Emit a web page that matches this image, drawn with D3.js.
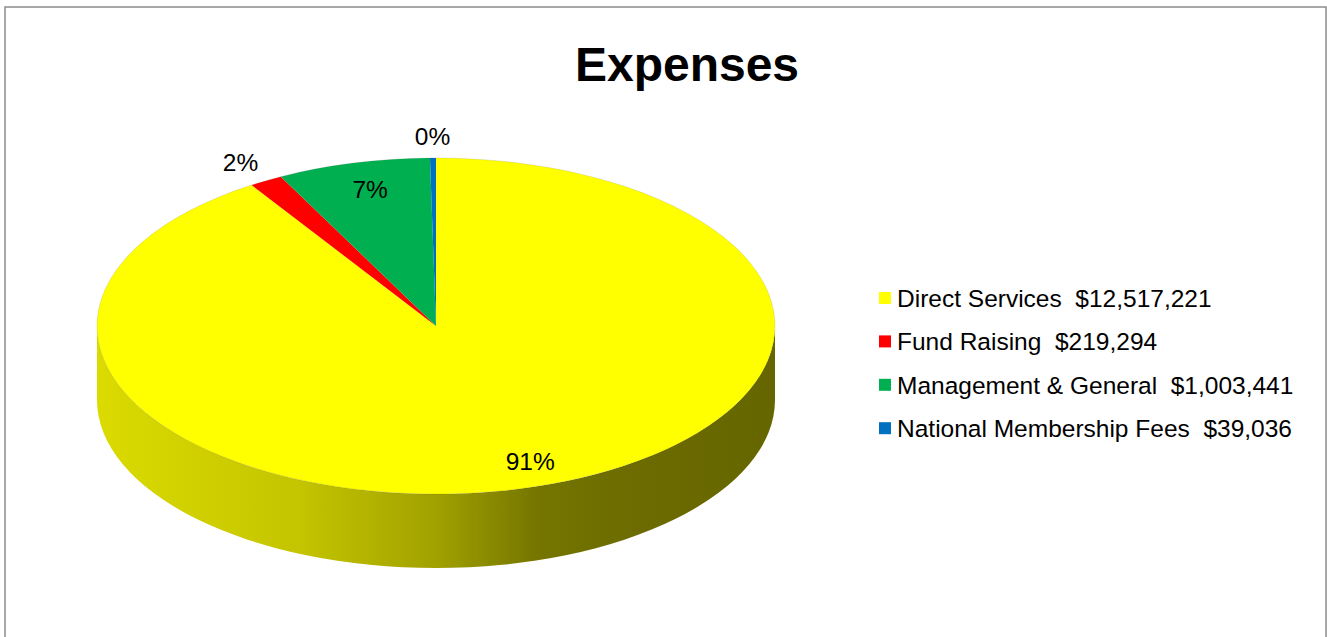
<!DOCTYPE html>
<html><head><meta charset="utf-8">
<script src="https://cdn.jsdelivr.net/npm/d3@7"></script>
<style>body{margin:0;background:#fff}svg{display:block}</style>
</head><body><svg id="c" width="1327" height="637"></svg>
<script>
const title = "Expenses";
const categories = ["Direct Services", "Fund Raising", "Management & General", "National Membership Fees"];
const values = [12517221, 219294, 1003441, 39036];
const valueLabels = ["$12,517,221", "$219,294", "$1,003,441", "$39,036"];
const colors = ["#FFFF00", "#FF0000", "#00B050", "#0070C0"];

const svg = d3.select("#c");
const font = "'Liberation Sans', Arial, sans-serif";

// frame
svg.append("rect").attr("x", 5).attr("y", 7).attr("width", 1321).attr("height", 700)
  .attr("fill", "#fff").attr("stroke", "#8c8c8c").attr("stroke-width", 1.5);

svg.append("text").attr("x", 687).attr("y", 81).attr("text-anchor", "middle")
  .attr("font-family", font).attr("font-weight", "bold").attr("font-size", 48).text(title);

const cx = 436, cy = 326, rx = 339, ry = 168, depth = 74;
const pt = (a, fx = 1, fy = fx, dy = 0) => [cx + rx * fx * Math.sin(a), cy - ry * fy * Math.cos(a) + dy];

const pie = d3.pie().sort(null).startAngle(0).endAngle(2 * Math.PI);
const arcs = pie(values);
const total = d3.sum(values);

// side gradients
const defs = svg.append("defs");
const shade = [[0, 0.86], [0.3, 0.77], [0.5, 0.63], [0.65, 0.46], [0.8, 0.42], [1, 0.40]];
colors.forEach((c, i) => {
  const g = defs.append("linearGradient").attr("id", "side" + i)
    .attr("gradientUnits", "userSpaceOnUse")
    .attr("x1", cx - rx).attr("x2", cx + rx).attr("y1", 0).attr("y2", 0);
  const base = d3.rgb(c);
  shade.forEach(([o, m]) => {
    g.append("stop").attr("offset", o)
      .attr("stop-color", d3.rgb(base.r * m, base.g * m, base.b * m).formatHex());
  });
});

// sides (front half only)
const gSide = svg.append("g");
arcs.forEach((d, i) => {
  const b0 = Math.max(d.startAngle, Math.PI / 2), b1 = Math.min(d.endAngle, 3 * Math.PI / 2);
  if (b1 <= b0) return;
  const p0 = pt(b0), p1 = pt(b1), q1 = pt(b1, 1, 1, depth), q0 = pt(b0, 1, 1, depth);
  const path = `M${p0}A${rx},${ry} 0 0 1 ${p1}L${q1}A${rx},${ry} 0 0 0 ${q0}Z`;
  gSide.append("path").attr("d", path).attr("fill", `url(#side${i})`);
});

// tops
const gTop = svg.append("g");
arcs.forEach((d, i) => {
  const p0 = pt(d.startAngle), p1 = pt(d.endAngle);
  const large = d.endAngle - d.startAngle > Math.PI ? 1 : 0;
  gTop.append("path").attr("d", `M${cx},${cy}L${p0}A${rx},${ry} 0 ${large} 1 ${p1}Z`)
    .attr("fill", colors[i]);
});
// faint rim
svg.append("ellipse").attr("cx", cx).attr("cy", cy).attr("rx", rx).attr("ry", ry)
  .attr("fill", "none").attr("stroke", "rgba(0,0,0,0.12)").attr("stroke-width", 0.8);

// labels
const fmt = d3.format(".0%");
arcs.forEach((d, i) => {
  const share = d.value / total;
  const mid = (d.startAngle + d.endAngle) / 2;
  const inside = share >= 0.05;
  const p = inside ? pt(mid, 0.78 + 0.22 * share, 0.84) : pt(mid, 1.15, 1.13);
  svg.append("text").attr("x", p[0]).attr("y", p[1]).attr("dy", "0.36em")
    .attr("text-anchor", "middle").attr("font-family", font).attr("font-size", 24.5)
    .text(fmt(share));
});

// legend
const lg = svg.append("g");
categories.forEach((c, i) => {
  const y = 298 + i * 43.4;
  lg.append("rect").attr("x", 879).attr("y", y - 6).attr("width", 12).attr("height", 12).attr("fill", colors[i]);
  lg.append("text").attr("x", 897).attr("y", y).attr("dy", "0.36em")
    .attr("font-family", font).attr("font-size", 24.5).attr("xml:space", "preserve")
    .text(c + "  " + valueLabels[i]);
});
</script>
</body></html>
